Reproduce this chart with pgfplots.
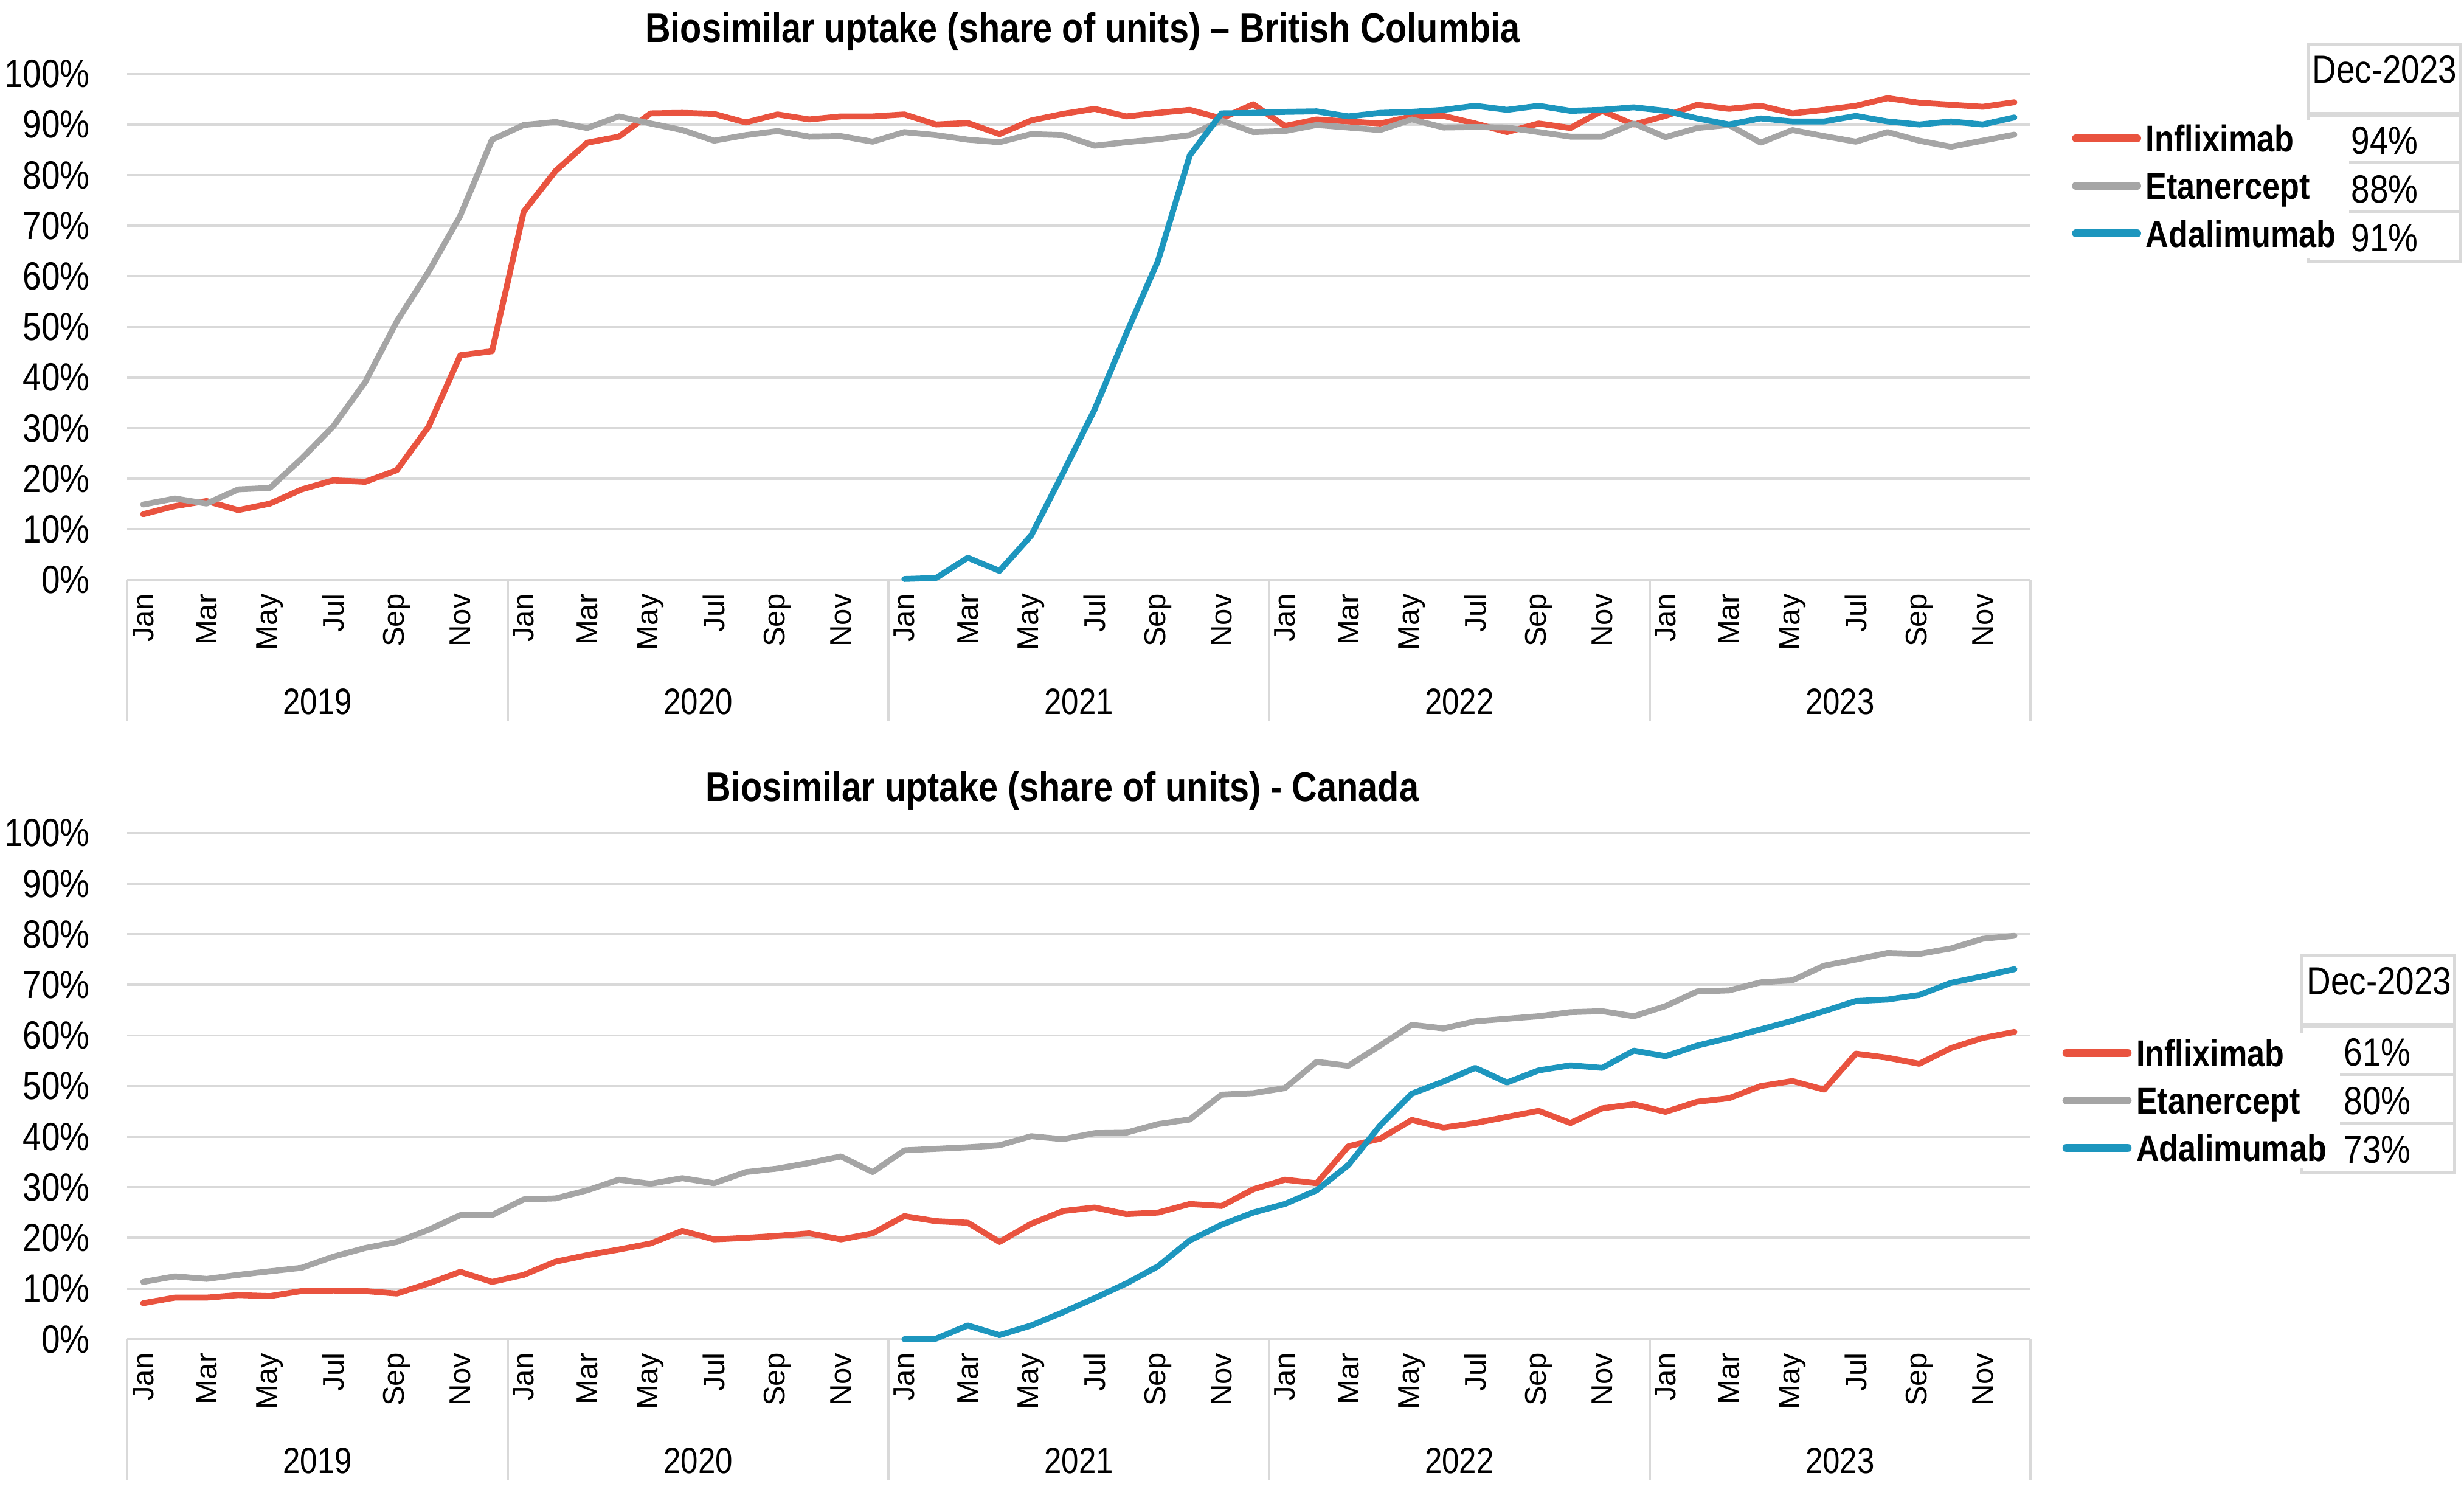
\documentclass[border=0pt]{standalone}
\usepackage{fontspec}
\setmainfont{Liberation Sans}
\newfontfamily\narrow[FakeStretch=0.85]{Liberation Sans}
\usepackage{pgfplots}
\usepackage{pgfplotstable}
\pgfplotsset{compat=1.18}

\definecolor{infl}{HTML}{E9533F}
\definecolor{etan}{HTML}{A5A5A5}
\definecolor{adal}{HTML}{1D96BE}
\definecolor{gridgray}{HTML}{D9D9D9}

% monthly share of units (%), m = 0 is Jan 2019
\pgfplotstableread{
m  infl  etan  adal
0  13.0  14.9  nan
1  14.6  16.1  nan
2  15.6  15.1  nan
3  13.8  17.9  nan
4  15.1  18.2  nan
5  17.9  24.0  nan
6  19.7  30.4  nan
7  19.4  39.1  nan
8  21.7  51.1  nan
9  30.3  60.9  nan
10 44.4  72.0  nan
11 45.2  87.0  nan
12 72.8  89.9  nan
13 80.8  90.5  nan
14 86.4  89.3  nan
15 87.6  91.6  nan
16 92.2  90.2  nan
17 92.3  88.9  nan
18 92.1  86.8  nan
19 90.4  87.9  nan
20 92.0  88.7  nan
21 91.0  87.6  nan
22 91.6  87.7  nan
23 91.6  86.6  nan
24 92.0  88.5  0.2
25 90.0  87.9  0.4
26 90.3  87.0  4.4
27 88.1  86.5  1.8
28 90.8  88.1  8.8
29 92.1  87.9  21.1
30 93.1  85.8  33.7
31 91.6  86.5  48.7
32 92.3  87.1  63.1
33 92.9  87.9  83.9
34 91.2  90.8  92.2
35 94.0  88.5  92.3
36 89.7  88.7  92.5
37 91.0  89.9  92.6
38 90.6  89.4  91.6
39 90.2  88.9  92.3
40 91.6  91.0  92.5
41 91.7  89.4  92.9
42 90.2  89.5  93.7
43 88.5  89.4  92.9
44 90.2  88.5  93.7
45 89.3  87.6  92.7
46 92.7  87.6  92.9
47 90.0  90.2  93.4
48 91.7  87.5  92.7
49 93.9  89.3  91.2
50 93.1  89.9  90.0
51 93.7  86.4  91.2
52 92.2  88.9  90.6
53 92.9  87.7  90.6
54 93.7  86.6  91.7
55 95.2  88.5  90.6
56 94.3  86.8  90.0
57 93.9  85.6  90.6
58 93.5  86.8  90.0
59 94.4  88.0  91.4
}\bcdata

\pgfplotstableread{
m  infl  etan  adal
0  7.1   11.3  nan
1  8.2   12.4  nan
2  8.2   11.9  nan
3  8.7   12.7  nan
4  8.5   13.4  nan
5  9.5   14.1  nan
6  9.6   16.3  nan
7  9.5   18.0  nan
8  9.0   19.2  nan
9  11.0  21.6  nan
10 13.3  24.5  nan
11 11.3  24.5  nan
12 12.7  27.6  nan
13 15.3  27.8  nan
14 16.6  29.4  nan
15 17.7  31.5  nan
16 18.9  30.7  nan
17 21.4  31.8  nan
18 19.7  30.8  nan
19 20.0  33.0  nan
20 20.4  33.7  nan
21 20.9  34.8  nan
22 19.7  36.1  nan
23 20.9  33.0  nan
24 24.3  37.3  0.0
25 23.3  37.6  0.1
26 23.0  37.9  2.7
27 19.2  38.3  0.8
28 22.8  40.1  2.7
29 25.3  39.5  5.3
30 26.0  40.7  8.1
31 24.7  40.8  11.0
32 25.0  42.5  14.4
33 26.7  43.4  19.5
34 26.3  48.3  22.6
35 29.6  48.6  25.0
36 31.5  49.6  26.7
37 30.8  54.8  29.4
38 38.1  54.0  34.4
39 39.6  58.0  42.2
40 43.3  62.1  48.5
41 41.8  61.4  50.9
42 42.7  62.8  53.6
43 43.9  63.3  50.7
44 45.1  63.8  53.1
45 42.7  64.6  54.1
46 45.6  64.8  53.6
47 46.4  63.8  57.0
48 44.9  65.8  55.9
49 46.9  68.7  58.0
50 47.6  68.9  59.5
51 50.0  70.5  61.2
52 51.0  70.9  62.9
53 49.3  73.8  64.8
54 56.4  75.0  66.8
55 55.6  76.3  67.1
56 54.4  76.1  68.0
57 57.5  77.2  70.4
58 59.5  79.1  71.7
59 60.7  79.7  73.1
}\cadata

\pgfplotsset{
  uptake/.style={
    scale only axis, width=484.4pt, height=128.8pt,
    anchor=south west, clip=false,
    xmin=-0.5, xmax=59.5, ymin=0, ymax=100,
    axis line style={draw=none},
    ymajorgrids, grid style={draw=gridgray, line width=0.6pt},
    ytick={0,10,...,100}, ytick style={draw=none},
    /pgf/number format/assume math mode=true,
    yticklabel={\pgfmathprintnumber{\tick}\%},
    yticklabel style={font=\narrow\fontsize{10}{12}\selectfont, xshift=-6pt},
    xtick={0,2,...,58}, xtick style={draw=none},
    xticklabels={Jan,Mar,May,Jul,Sep,Nov,Jan,Mar,May,Jul,Sep,Nov,Jan,Mar,May,Jul,Sep,Nov,Jan,Mar,May,Jul,Sep,Nov,Jan,Mar,May,Jul,Sep,Nov},
    xticklabel style={rotate=90, anchor=east, font=\fontsize{7.6}{9}\selectfont},
    every axis plot/.append style={line width=1.5pt, line join=round, line cap=round, no markers},
    legend image code/.code={\draw[##1, line width=2pt, line cap=round] (1pt,0pt) -- (16.6pt,0pt);},
    legend cell align=left,
    legend style={draw=none, fill=none, inner sep=0pt, row sep=5.2pt, column sep=1.2pt,
      font=\narrow\bfseries\fontsize{9.5}{11}\selectfont,
      nodes={inner sep=0pt, text height=6.9pt, text depth=0pt}},
  },
  years/.style={
    execute at end axis={
      \pgfplotsinvokeforeach{-0.5,11.5,23.5,35.5,47.5,59.5}{
        \draw[gridgray, line width=0.6pt] (axis cs:##1,0) -- ++(0pt,-36pt);}
      \begin{scope}[every node/.style={anchor=base, yshift=-34.2pt,
          font=\narrow\fontsize{9.3}{11}\selectfont}]
      \node at (axis cs:5.5,0) {2019};
      \node at (axis cs:17.5,0) {2020};
      \node at (axis cs:29.5,0) {2021};
      \node at (axis cs:41.5,0) {2022};
      \node at (axis cs:53.5,0) {2023};
      \end{scope}
    },
  },
}

\begin{document}
\begin{tikzpicture}
\useasboundingbox (0pt,0pt) rectangle (627.2pt,-381.2pt);
\begin{scope}[x=0.4pt, y=-0.4pt]
% Dec-2023 boxes
\draw[gridgray, line width=0.75pt] (1469,28) rectangle (1566,72);
\draw[gridgray, line width=0.75pt] (1469,73.5) rectangle (1566,166.4);
\draw[gridgray, line width=0.75pt] (1495,103.2) -- (1566,103.2) (1495,134.8) -- (1566,134.8);
\fill[white] (1300,76.5) rectangle (1495,164);
\draw[gridgray, line width=0.75pt] (1465,607.6) rectangle (1562,652);
\draw[gridgray, line width=0.75pt] (1465,653) rectangle (1562,746);
\draw[gridgray, line width=0.75pt] (1489,683.6) -- (1562,683.6) (1489,714.5) -- (1562,714.5);
\fill[white] (1295,657.5) rectangle (1489,743.5);
\begin{scope}[every node/.style={anchor=base, font=\narrow\fontsize{10}{12}\selectfont}]
\node at (1517.5,53) {Dec-2023};
\node at (1517.6,98) {94\%};
\node at (1517.6,129) {88\%};
\node at (1517.6,160) {91\%};
\node at (1514,632.7) {Dec-2023};
\node at (1513,678) {61\%};
\node at (1513,709) {80\%};
\node at (1513,740) {73\%};
\end{scope}
\begin{scope}[every node/.style={anchor=base, font=\narrow\bfseries\fontsize{10.5}{12}\selectfont}]
\node at (689,27) {Biosimilar uptake (share of units) – British Columbia};
\node at (676,510) {Biosimilar uptake (share of units) - Canada};
\end{scope}
\end{scope}

\begin{axis}[uptake, years, at={(32.4pt,-147.6pt)},
  legend style={at={(1.0215,0.9011)}, anchor=north west}]
\addplot[infl] table[x=m, y=infl] {\bcdata};
\addplot[etan] table[x=m, y=etan] {\bcdata};
\addplot[adal] table[x=m, y=adal] {\bcdata};
\legend{Infliximab, Etanercept, Adalimumab}
\end{axis}

\begin{axis}[uptake, years, at={(32.4pt,-340.8pt)},
  legend style={at={(1.0165,0.594)}, anchor=north west}]
\addplot[infl] table[x=m, y=infl] {\cadata};
\addplot[etan] table[x=m, y=etan] {\cadata};
\addplot[adal] table[x=m, y=adal] {\cadata};
\legend{Infliximab, Etanercept, Adalimumab}
\end{axis}
\end{tikzpicture}
\end{document}
